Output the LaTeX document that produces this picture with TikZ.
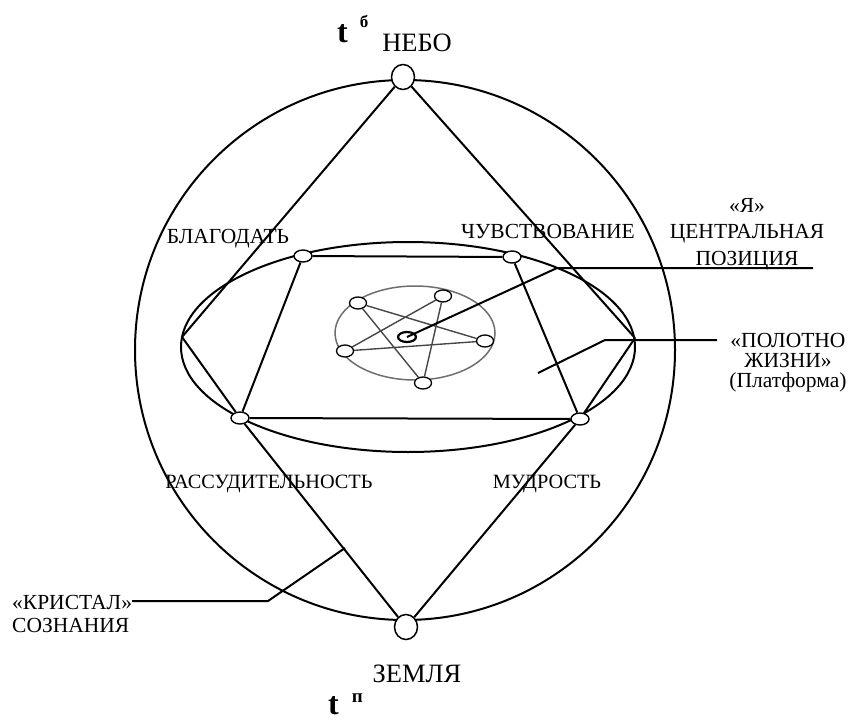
\documentclass[tikz,border=0pt]{standalone}
\usepackage{fontspec}
\setmainfont{Liberation Serif}
\usetikzlibrary{positioning,shapes.geometric}
\definecolor{StarGray}{RGB}{70,70,70}
\definecolor{RingGray}{RGB}{110,110,110}
\tikzset{
	pole/.style={ellipse,draw=black,fill=white,line width=1.5pt,inner sep=0pt,
		minimum width=23pt,minimum height=25pt},
	knot/.style={ellipse,draw=black,fill=white,line width=1.4pt,inner sep=0pt,
		minimum width=18pt,minimum height=12pt},
	edge/.style={draw=black,line width=2pt},
	staredge/.style={draw=StarGray,line width=1.4pt},
	word/.style={font=\fontsize{21.5}{26.5}\selectfont,inner sep=0pt},
	bigword/.style={font=\fontsize{26.5}{30}\selectfont,inner sep=0pt},
}
\begin{document}
\begin{tikzpicture}[x=1pt,y=-1pt]
	\useasboundingbox (0,0) rectangle (851,723);
	% sphere, platform and the small ring
	\draw[edge] (405,350) circle [radius=270];
	\draw[edge] (408,347) ellipse [x radius=227,y radius=105];
	\draw[draw=RingGray,line width=1.5pt] (415,333) ellipse [x radius=80,y radius=47];
	\node[pole] (nebo) at (403,77) {};
	\node[pole] (zemlya) at (406,627) {};
	\coordinate (lcorner) at (182,337); \coordinate (rcorner) at (635,338);
	\node[knot] (blag) at (303,256) {}; \node[knot] (chuv) at (512,257) {};
	\node[knot] (rass) at (240,418) {}; \node[knot] (mudr) at (580,419) {};
	\foreach \u/\v in {nebo/lcorner,nebo/rcorner,lcorner/rass,rass/zemlya,rcorner/mudr,mudr/zemlya,
		blag/chuv,chuv/mudr,mudr/rass,rass/blag}
	\draw[edge] (\u)--(\v);
	% pentagram
	\node[knot,line width=1.3pt,minimum width=17pt] (p1) at (358,303) {};
	\node[knot,line width=1.3pt,minimum width=17pt] (p2) at (443,296) {};
	\node[knot,line width=1.3pt,minimum width=17pt] (p3) at (485,341) {};
	\node[knot,line width=1.3pt,minimum width=17pt] (p4) at (423,383) {};
	\node[knot,line width=1.3pt,minimum width=17pt] (p5) at (345,351) {};
	\foreach \u/\v in {p1/p3,p3/p5,p5/p2,p2/p4,p4/p1}
	\draw[staredge] (\u)--(\v);
	\node[knot,line width=2.2pt,minimum height=10pt] (ya) at (407,337) {};
	% pointers
	\coordinate (yabend) at (557,268); \coordinate (yaend) at (813,268);
	\draw[edge] (ya.center)--(yabend)--(yaend);
	\coordinate (pltip) at (538,373); \coordinate (plbend) at (605,340); \coordinate (plend) at (717,340);
	\draw[edge] (pltip)--(plbend)--(plend);
	% labels
	\node[bigword,anchor=base] (nebotxt) at (417,51) {НЕБО};
	\node[bigword,anchor=base] (zemlyatxt) at (417,682) {ЗЕМЛЯ};
	\node[word,anchor=base] (blagtxt) at (228,243) {БЛАГОДАТЬ};
	\node[word,anchor=base] (chuvtxt) at (548,238) {ЧУВСТВОВАНИЕ};
	\node[word,anchor=base,font=\fontsize{20.3}{24}\selectfont] (rasstxt) at (269,488) {РАССУДИТЕЛЬНОСТЬ};
	\node[word,anchor=base,font=\fontsize{20.3}{24}\selectfont] (mudrtxt) at (547,488) {МУДРОСТЬ};
	\node[word,align=center] (yatxt) at (747,234) {«Я»\\ЦЕНТРАЛЬНАЯ\\ПОЗИЦИЯ};
	\node[word,align=center,font=\fontsize{21.5}{20}\selectfont] (pltxt) at (788,363) {«ПОЛОТНО\\ЖИЗНИ»\\(Платформа)};
	\node[word,align=left,anchor=west,font=\fontsize{21.5}{23}\selectfont] (krist) at (12,614) {«КРИСТАЛ»\\СОЗНАНИЯ};
	\coordinate (krtip) at (345,548); \coordinate (krbend) at (268,601);
	\draw[edge] (krtip)--(krbend)--(krbend -| krist.east);
	\node[anchor=base west,inner sep=0pt,font=\fontsize{32}{32}\selectfont\bfseries] (tb) at (337,42)
		{t\hspace{12pt}\raisebox{15pt}{\fontsize{17}{17}\selectfont б}};
	\node[anchor=base west,inner sep=0pt,font=\fontsize{32}{32}\selectfont\bfseries] (tp) at (328,714)
		{t\hspace{13pt}\raisebox{12pt}{\fontsize{19}{19}\selectfont п}};
\end{tikzpicture}
\end{document}
